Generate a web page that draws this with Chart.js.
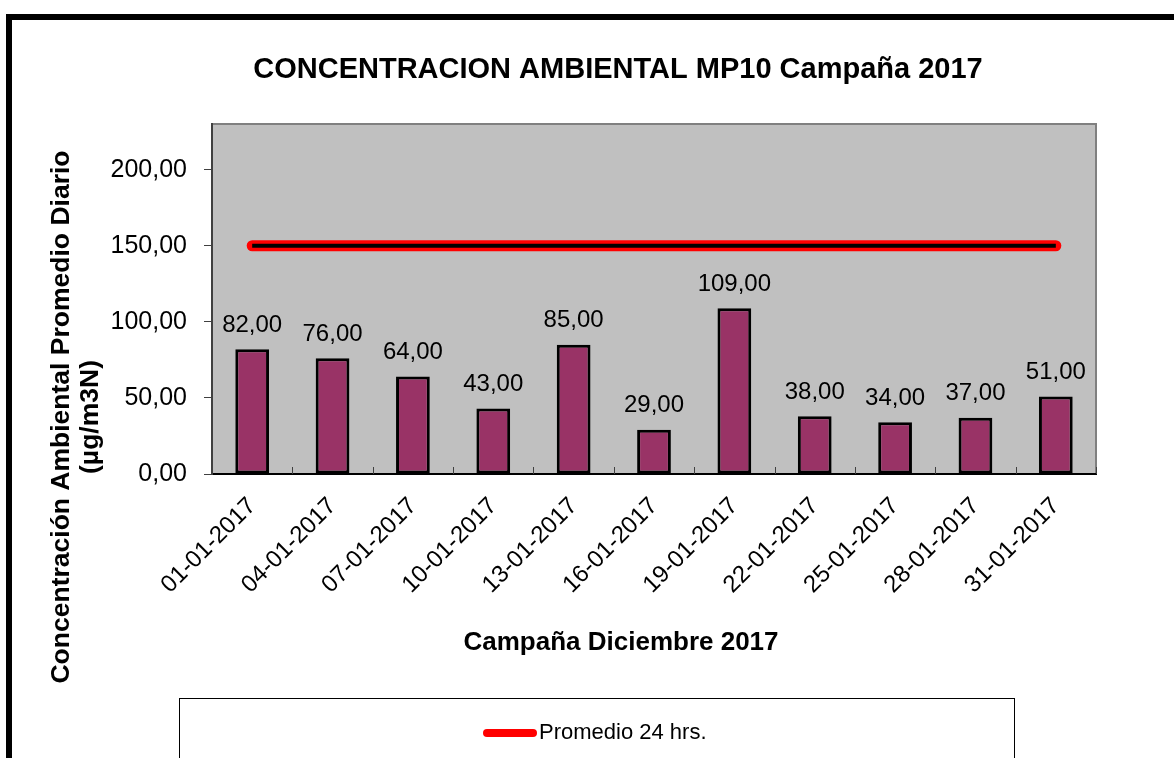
<!DOCTYPE html>
<html>
<head>
<meta charset="utf-8">
<script src="https://cdn.jsdelivr.net/npm/chart.js@4.4.0/dist/chart.umd.min.js"></script>
<style>
  html, body { margin: 0; padding: 0; background: #fff; }
  #wrap { width: 1174px; height: 758px; position: relative; }
</style>
</head>
<body>
<div id="wrap"><canvas id="mp10Chart"></canvas></div>
<script>
// MP10 campaign data
const fechas = ['01-01-2017', '04-01-2017', '07-01-2017', '10-01-2017', '13-01-2017', '16-01-2017',
  '19-01-2017', '22-01-2017', '25-01-2017', '28-01-2017', '31-01-2017'];
const concentracion = [82, 76, 64, 43, 85, 29, 109, 38, 34, 37, 51];
const promedio24 = [150, 150, 150, 150, 150, 150, 150, 150, 150, 150, 150];
const yTicks = [0, 50, 100, 150, 200];
const yMax = 230;

const chartTitle = 'CONCENTRACION AMBIENTAL MP10 Campaña 2017';
const xTitle = 'Campaña Diciembre 2017';
const yTitle = ['Concentración Ambiental Promedio Diario', '(µg/m3N)'];

const fmt = v => v.toFixed(2).replace('.', ',');

// Background, frame, titles, value labels and legend box
const decoPlugin = {
  id: 'deco',
  beforeDraw(chart) {
    const { ctx, chartArea } = chart;
    const { top, bottom, left, right } = chartArea;
    ctx.save();
    ctx.fillStyle = '#ffffff';
    ctx.fillRect(0, 0, chart.width, chart.height);
    ctx.fillStyle = '#C0C0C0';
    ctx.fillRect(left, top, right - left, bottom - top);
    ctx.strokeStyle = '#808080';
    ctx.lineWidth = 2;
    ctx.beginPath();
    ctx.moveTo(left, top);
    ctx.lineTo(right, top);
    ctx.lineTo(right, bottom);
    ctx.stroke();
    ctx.restore();
  },
  afterDatasetsDraw(chart) {
    const { ctx, chartArea } = chart;
    ctx.save();
    // small inside ticks between categories
    const step = (chartArea.right - chartArea.left) / fechas.length;
    ctx.strokeStyle = '#404040';
    ctx.lineWidth = 1;
    ctx.beginPath();
    for (let k = 1; k <= fechas.length; k++) {
      const x = Math.round(chartArea.left + k * step) + 0.5;
      ctx.moveTo(x, chartArea.bottom);
      ctx.lineTo(x, chartArea.bottom - 7);
    }
    ctx.stroke();

    // value labels over bars
    const meta = chart.getDatasetMeta(0);
    ctx.fillStyle = '#000';
    ctx.font = '24px "Liberation Sans", Arial, sans-serif';
    ctx.textAlign = 'center';
    ctx.textBaseline = 'middle';
    meta.data.forEach((bar, i) => {
      ctx.fillText(fmt(concentracion[i]), bar.x, bar.y - 24);
    });
    ctx.restore();
  },
  afterDraw(chart) {
    const { ctx } = chart;
    ctx.save();
    // outer frame
    ctx.fillStyle = '#000';
    ctx.fillRect(6, 14, chart.width - 6, 6);
    ctx.fillRect(6, 14, 6, chart.height - 14);

    // titles
    ctx.fillStyle = '#000';
    ctx.textAlign = 'center';
    ctx.textBaseline = 'middle';
    ctx.font = 'bold 29px "Liberation Sans", Arial, sans-serif';
    ctx.fillText(chartTitle, 618, 70);
    ctx.font = 'bold 26px "Liberation Sans", Arial, sans-serif';
    ctx.fillText(xTitle, 621, 643);
    ctx.font = 'bold 26.5px "Liberation Sans", Arial, sans-serif';
    ctx.translate(62, 417);
    ctx.rotate(-Math.PI / 2);
    ctx.fillText(yTitle[0], 0, 0);
    ctx.fillText(yTitle[1], 0, 29);
    ctx.setTransform(1, 0, 0, 1, 0, 0);

    // legend box
    ctx.strokeStyle = '#000';
    ctx.lineWidth = 1;
    ctx.strokeRect(179.5, 698.5, 835, 100);
    ctx.strokeStyle = '#FF0000';
    ctx.lineWidth = 8;
    ctx.lineCap = 'round';
    ctx.beginPath();
    ctx.moveTo(487, 733);
    ctx.lineTo(533, 733);
    ctx.stroke();
    ctx.fillStyle = '#000';
    ctx.textAlign = 'left';
    ctx.font = '22px "Liberation Sans", Arial, sans-serif';
    ctx.fillText(chart.data.datasets[1].label, 539, 733);
    ctx.restore();
  }
};

const ctx = document.getElementById('mp10Chart').getContext('2d');
new Chart(ctx, {
  data: {
    labels: fechas,
    datasets: [{
      type: 'bar',
      label: 'Concentración',
      data: concentracion,
      backgroundColor: '#993366',
      borderColor: '#000',
      borderWidth: 3,
      borderSkipped: false,
      barPercentage: 0.42,
      categoryPercentage: 1,
      order: 3
    }, {
      type: 'line',
      label: 'Promedio 24 hrs.',
      data: promedio24,
      borderColor: '#FF0000',
      borderWidth: 11,
      borderCapStyle: 'round',
      pointRadius: 0,
      fill: false,
      order: 2
    }, {
      type: 'line',
      label: 'core',
      data: promedio24,
      borderColor: '#000',
      borderWidth: 4,
      pointRadius: 0,
      fill: false,
      order: 1
    }]
  },
  options: {
    responsive: true,
    maintainAspectRatio: false,
    animation: false,
    layout: { padding: { left: 0, right: 78, top: 124, bottom: 0 } },
    plugins: {
      legend: { display: false },
      title: { display: false },
      tooltip: { enabled: false }
    },
    scales: {
      x: {
        offset: true,
        grid: { display: false },
        border: { display: true, color: '#000', width: 2 },
        ticks: {
          autoSkip: false,
          minRotation: 45,
          maxRotation: 45,
          padding: 10,
          color: '#000',
          font: { family: '"Liberation Sans", Arial, sans-serif', size: 24 }
        },
        afterFit: (scale) => { scale.height = 284; }
      },
      y: {
        min: 0,
        max: yMax,
        afterBuildTicks: (scale) => { scale.ticks = yTicks.map(v => ({ value: v })); },
        grid: { drawOnChartArea: false, drawTicks: true, tickLength: 8, color: '#404040' },
        border: { display: true, color: '#404040', width: 2 },
        ticks: {
          padding: 17,
          color: '#000',
          font: { family: '"Liberation Sans", Arial, sans-serif', size: 25 },
          callback: (v) => fmt(v)
        },
        afterFit: (scale) => { scale.width = 212; }
      }
    }
  },
  plugins: [decoPlugin]
});
</script>
</body>
</html>
